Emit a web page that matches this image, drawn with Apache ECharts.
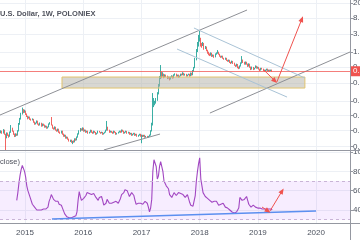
<!DOCTYPE html>
<html><head><meta charset="utf-8">
<script src="https://cdn.jsdelivr.net/npm/echarts@6/dist/echarts.min.js"></script>
<style>html,body{margin:0;padding:0;background:#fff}#c{width:360px;height:240px}</style>
</head><body><div id="c"></div>
<script>
// ---------------- data ----------------
const firstWeek = '2014-08-04';
const firstOpen = 0.0070;
const weekClose = [
0.0078,0.0069,0.0083,0.0065,0.0054,0.0069,0.0061,0.0057,0.0073,0.0094,
0.0078,0.0065,0.0057,0.0065,0.0061,0.0078,0.0120,0.0163,0.0222,0.0284,
0.0251,0.0267,0.0222,0.0196,0.0174,0.0185,0.0163,0.0154,0.0163,0.0136,
0.0120,0.0128,0.0145,0.0120,0.0113,0.0128,0.0106,0.0120,0.0113,0.0100,
0.0106,0.0094,0.0100,0.0120,0.0128,0.0113,0.0094,0.0088,0.0100,0.0083,
0.0078,0.0088,0.0073,0.0069,0.0078,0.0065,0.0057,0.0061,0.0051,0.0054,
0.0048,0.0042,0.0045,0.0040,0.0042,0.0040,0.0048,0.0045,0.0054,0.0065,
0.0078,0.0088,0.0083,0.0094,0.0078,0.0083,0.0073,0.0078,0.0069,0.0073,
0.0083,0.0073,0.0069,0.0078,0.0073,0.0065,0.0069,0.0078,0.0073,0.0069,
0.0073,0.0065,0.0069,0.0073,0.0083,0.0100,0.0083,0.0073,0.0078,0.0073,
0.0069,0.0078,0.0073,0.0065,0.0069,0.0073,0.0078,0.0073,0.0083,0.0078,
0.0069,0.0073,0.0078,0.0069,0.0073,0.0065,0.0069,0.0061,0.0065,0.0069,
0.0061,0.0065,0.0057,0.0061,0.0065,0.0057,0.0061,0.0057,0.0061,0.0054,
0.0057,0.0054,0.0057,0.0061,0.0078,0.0113,0.0386,0.0411,0.0437,0.0525,
0.0757,0.124,0.203,0.293,0.229,0.259,0.216,0.244,0.229,0.203,
0.216,0.191,0.216,0.229,0.203,0.244,0.259,0.229,0.244,0.216,
0.229,0.259,0.244,0.276,0.244,0.259,0.229,0.244,0.259,0.229,
0.276,0.244,0.312,0.375,0.612,1.06,1.54,2.09,2.36,1.63,
1.54,1.73,1.28,1.36,1.13,1.00,0.884,0.832,0.94,0.782,
0.832,0.736,0.884,0.94,1.00,0.884,0.782,0.736,0.782,0.692,
0.651,0.692,0.612,0.576,0.612,0.541,0.509,0.576,0.509,0.450,
0.424,0.479,0.398,0.375,0.424,0.509,0.612,0.541,0.479,0.541,
0.479,0.424,0.479,0.398,0.352,0.398,0.352,0.375,0.424,0.375,
0.398,0.352,0.331,0.375,0.352,0.331,0.312,0.331,0.352,0.312,
0.331,0.312,0.331,0.312
];
const weekHigh = [
0.0082,0.0080,0.0088,0.0085,0.0066,0.0072,0.0071,0.0063,0.0076,0.0113,
0.0096,0.0080,0.0067,0.0068,0.0067,0.0082,0.0128,0.0175,0.0240,0.0330,
0.0300,0.0290,0.0275,0.0230,0.0200,0.0192,0.0190,0.0168,0.0170,0.0165,
0.0140,0.0132,0.0150,0.0148,0.0124,0.0132,0.0130,0.0124,0.0123,0.0116,
0.0110,0.0108,0.0103,0.0125,0.0135,0.0185,0.0116,0.0097,0.0104,0.0102,
0.0086,0.0091,0.0090,0.0076,0.0080,0.0080,0.0067,0.0063,0.0062,0.0056,
0.0055,0.0049,0.0046,0.0046,0.0043,0.0044,0.0050,0.0050,0.0056,0.0068,
0.0082,0.0094,0.0092,0.0098,0.0096,0.0086,0.0085,0.0080,0.0080,0.0075,
0.0085,0.0084,0.0075,0.0080,0.0079,0.0074,0.0070,0.0080,0.0079,0.0074,
0.0075,0.0074,0.0070,0.0075,0.0085,0.0145,0.0102,0.0085,0.0080,0.0079,
0.0075,0.0080,0.0079,0.0074,0.0070,0.0075,0.0080,0.0080,0.0086,0.0085,
0.0080,0.0075,0.0080,0.0079,0.0075,0.0074,0.0070,0.0070,0.0066,0.0070,
0.0070,0.0066,0.0066,0.0062,0.0066,0.0066,0.0063,0.0062,0.0062,0.0062,
0.0058,0.0058,0.0058,0.0063,0.0082,0.0130,0.0806,0.0593,0.0500,0.0593,
0.0850,0.140,0.230,0.450,0.300,0.290,0.265,0.255,0.250,0.235,
0.222,0.220,0.222,0.240,0.235,0.255,0.270,0.265,0.250,0.250,
0.235,0.265,0.265,0.290,0.280,0.265,0.262,0.250,0.265,0.262,
0.285,0.280,0.330,0.400,0.700,1.20,1.85,2.84,3.63,2.40,
1.75,1.85,1.75,1.45,1.40,1.15,1.02,0.92,0.98,0.96,
0.86,0.85,0.92,0.98,1.13,1.02,0.90,0.80,0.80,0.80,
0.70,0.71,0.70,0.62,0.63,0.62,0.55,0.59,0.58,0.52,
0.46,0.49,0.48,0.41,0.44,0.53,0.78,0.63,0.55,0.56,
0.55,0.49,0.50,0.49,0.41,0.41,0.40,0.38,0.44,0.43,
0.41,0.40,0.36,0.38,0.38,0.36,0.34,0.34,0.36,0.36,
0.34,0.34,0.34,0.34
];
const weekLow = [
0.0068,0.0066,0.0067,0.0062,0.0024,0.0050,0.0058,0.0052,0.0055,0.0070,
0.0075,0.0062,0.0054,0.0055,0.0058,0.0059,0.0076,0.0115,0.0158,0.0215,
0.0235,0.0240,0.0210,0.0185,0.0160,0.0168,0.0155,0.0148,0.0150,0.0130,
0.0115,0.0117,0.0125,0.0116,0.0108,0.0110,0.0102,0.0104,0.0108,0.0096,
0.0097,0.0090,0.0091,0.0098,0.0116,0.0110,0.0090,0.0085,0.0086,0.0080,
0.0075,0.0076,0.0070,0.0066,0.0067,0.0062,0.0055,0.0055,0.0049,0.0049,
0.0046,0.0041,0.0040,0.0038,0.0035,0.0038,0.0039,0.0043,0.0044,0.0052,
0.0063,0.0075,0.0080,0.0080,0.0075,0.0076,0.0070,0.0071,0.0066,0.0067,
0.0071,0.0070,0.0066,0.0067,0.0070,0.0062,0.0063,0.0067,0.0071,0.0066,
0.0068,0.0062,0.0063,0.0067,0.0071,0.0080,0.0080,0.0070,0.0071,0.0070,
0.0066,0.0067,0.0070,0.0062,0.0063,0.0067,0.0071,0.0070,0.0071,0.0075,
0.0066,0.0067,0.0071,0.0066,0.0067,0.0062,0.0063,0.0058,0.0059,0.0063,
0.0058,0.0059,0.0055,0.0055,0.0059,0.0055,0.0037,0.0054,0.0055,0.0052,
0.0052,0.0051,0.0052,0.0055,0.0059,0.0076,0.0110,0.0340,0.0380,0.0420,
0.0500,0.074,0.120,0.190,0.200,0.220,0.200,0.210,0.215,0.190,
0.195,0.175,0.185,0.210,0.195,0.200,0.235,0.220,0.220,0.205,
0.210,0.225,0.235,0.240,0.235,0.235,0.220,0.222,0.240,0.220,
0.225,0.235,0.240,0.300,0.370,0.600,1.00,1.40,1.90,1.40,
1.30,1.45,1.15,1.20,1.05,0.90,0.82,0.78,0.80,0.74,
0.75,0.70,0.72,0.85,0.90,0.85,0.75,0.70,0.71,0.66,
0.62,0.62,0.58,0.55,0.55,0.51,0.48,0.50,0.48,0.43,
0.40,0.41,0.37,0.35,0.36,0.41,0.49,0.51,0.46,0.46,
0.46,0.40,0.41,0.38,0.33,0.34,0.33,0.34,0.37,0.36,
0.36,0.34,0.31,0.32,0.34,0.31,0.30,0.30,0.32,0.30,
0.30,0.30,0.31,0.30
];
const rsiStartWeek = 14;
const rsiValues = [
50,58,68,76,82,86,84,80,74,65,
60,58,53,51,46,44,43,42,40,41,
40,39,40,39,41,40,41,42,43,49,
52,56,54,51,52,49,48,49,46,44,
45,42,40,36,35,33,32,32,31,32,
31,33,32,34,38,50,59,54,50,48,
52,53,55,58,59,57,55,56,58,57,
56,53,51,50,53,55,54,50,45,43,
47,51,49,47,48,47,49,48,47,49,
48,47,48,52,56,55,58,61,63,60,
57,54,56,58,59,55,50,46,48,47,
46,47,45,46,48,49,50,47,43,38,
42,51,80,92,94,85,72,75,85,90,
92,80,70,68,65,63,62,56,54,53,
55,58,57,55,56,58,59,57,55,56,
54,53,55,56,52,48,45,44,44,46,
55,70,80,88,94,72,65,58,56,54,
53,52,51,50,49,48,50,49,51,49,
47,45,44,46,48,47,45,43,44,42,
41,40,39,38,38,37,37,38,37,42,
53,52,50,49,51,53,54,50,46,44,
43,44,45,46,43,42,42,43,42,42,
41,42,41,40,41,40,41,40,41,40
];
const priceTicks = [20, 8, 3, 1, 0.4, 0.15, 0.05, 0.02, 0.008, 0.003];
const priceTickLabels = ['20.00000','8.00000','3.00000','1.00000','0.40000','0.15000','0.05000','0.02000','0.00800','0.00300'];
const rsiTicks = [40, 60, 80, 100];
const yearTicks = ['2015-01-01','2016-01-01','2017-01-01','2018-01-01','2019-01-01','2020-01-01'];
const timeRange = ['2014-07-28', '2020-08-01'];
const priceRange = [0.00244, 24.4];
const rsiRange = [26.6, 101];
// drawings (date, value) pairs
const channelTop = [['2014-07-28', 0.0209], ['2018-10-25', 13.2]];
const channelLowA = [['2016-05-10', 0.00245], ['2017-04-27', 0.0065]];
const channelLowB = [['2018-03-06', 0.0236], ['2020-08-01', 1.0]];
const fallTop = [['2017-11-26', 4.37], ['2019-10-23', 0.203]];
const fallLow = [['2017-08-12', 1.2], ['2019-07-03', 0.063]];
const arrowDown = [['2019-02-08', 0.331], ['2019-04-18', 0.169]];
const arrowUp = [['2019-04-30', 0.159], ['2019-10-04', 7.59]];
const zone = [['2015-08-21', 0.2155], ['2019-10-23', 0.1096]];
const rsiSupport = [['2015-06-19', 30.7], ['2020-01-01', 39.0]];
const rsiArrowDown = [['2019-01-27', 43.1], ['2019-03-06', 39.0]];
const rsiArrowUp = [['2019-03-18', 39.0], ['2019-06-02', 59.7]];
const rsiBand = [70, 30];

// ---------------- build ----------------
const DAY = 86400000;
const ts = d => Date.parse(d + 'T00:00:00Z');
const lg = Math.log10;
const t0 = ts(firstWeek);
const candles = weekClose.map((c, i) => {
  const o = i === 0 ? firstOpen : weekClose[i - 1];
  return [t0 + i * 7 * DAY, lg(o), lg(c), lg(Math.min(weekLow[i], o, c)), lg(Math.max(weekHigh[i], o, c))];
});
const rsiData = rsiValues.map((v, i) => [t0 + (i + rsiStartWeek) * 7 * DAY, v]);
const yearTs = yearTicks.map(ts);
const logTicks = priceTicks.map(lg);
const FONT = 'Liberation Sans';
const TXT = '#4c525e';
const GRID = '#edf0f5';

function seg(pair, color, width, arrow, isLog) {
  const f = isLog ? lg : (v => v);
  const ls = { color: color, width: width, type: 'solid' };
  return [
    { coord: [ts(pair[0][0]), f(pair[0][1])], symbol: 'none', lineStyle: ls },
    { coord: [ts(pair[1][0]), f(pair[1][1])], symbol: arrow ? 'triangle' : 'none', symbolSize: arrow ? [5, 6] : 0, lineStyle: ls }
  ];
}
const lastClose = weekClose[weekClose.length - 1];
const RED = '#f0534f';
function xAxisOf(gi, showLabel) {
  return { type: 'value', gridIndex: gi, min: ts(timeRange[0]), max: ts(timeRange[1]),
    axisLine: { show: false }, axisTick: { show: false, customValues: yearTs },
    axisLabel: { show: showLabel, customValues: yearTs, fontSize: 8, color: TXT, margin: 6, fontFamily: FONT,
      formatter: v => String(new Date(v).getUTCFullYear()) },
    splitLine: { show: true, lineStyle: { color: GRID, width: 1 } } };
}

const chart = echarts.init(document.getElementById('c'), null, { renderer: 'canvas' });
chart.setOption({
  animation: false,
  backgroundColor: '#ffffff',
  textStyle: { fontFamily: FONT },
  title: [
    { text: 'U.S. Dollar, 1W, POLONIEX', left: -5, top: 5, textStyle: { fontSize: 7.5, fontWeight: 'bold', color: '#50535e', fontFamily: FONT } },
    { text: 'close)', left: -5, top: 153, textStyle: { fontSize: 7.5, fontWeight: 'normal', color: '#50535e', fontFamily: FONT } }
  ],
  grid: [
    { left: 0, top: 0, width: 350, height: 150, containLabel: false, outerBoundsMode: 'none' },
    { left: 0, top: 151, width: 350, height: 72, containLabel: false, outerBoundsMode: 'none' }
  ],
  xAxis: [ xAxisOf(0, false), xAxisOf(1, true) ],
  yAxis: [
    { type: 'value', gridIndex: 0, position: 'right', min: lg(priceRange[0]), max: lg(priceRange[1]),
      axisLine: { show: false },
      axisTick: { show: true, length: 3, customValues: logTicks, lineStyle: { color: '#9598a1' } },
      axisLabel: { customValues: logTicks, fontSize: 8, color: TXT, margin: 3, fontFamily: FONT,
        formatter: v => { let k = 0, b = 1e9; logTicks.forEach((t, j) => { if (Math.abs(t - v) < b) { b = Math.abs(t - v); k = j; } }); return priceTickLabels[k]; } },
      splitLine: { show: true, lineStyle: { color: GRID, width: 1 } } },
    { type: 'value', gridIndex: 1, position: 'right', min: rsiRange[0], max: rsiRange[1],
      axisLine: { show: false },
      axisTick: { show: true, length: 3, customValues: rsiTicks, lineStyle: { color: '#9598a1' } },
      axisLabel: { customValues: rsiTicks, fontSize: 8, color: TXT, margin: 3, fontFamily: FONT, formatter: v => Number(v).toFixed(2) },
      splitLine: { show: true, lineStyle: { color: GRID, width: 1 } } }
  ],
  series: [
    { type: 'candlestick', xAxisIndex: 0, yAxisIndex: 0, data: candles, barWidth: 1, clip: true,
      itemStyle: { color: '#26a69a', color0: '#ef5350', borderColor: '#26a69a', borderColor0: '#ef5350', borderWidth: 0.9 },
      markArea: { silent: true, z: 5,
        data: [[
          { coord: [ts(zone[0][0]), lg(zone[0][1])], itemStyle: { color: 'rgba(178,176,166,0.5)', borderColor: '#e2c46e', borderWidth: 1 } },
          { coord: [ts(zone[1][0]), lg(zone[1][1])] }
        ]] },
      markLine: { silent: true, animation: false, label: { show: false }, symbol: ['none', 'none'],
        data: [
          seg(channelTop, '#8e9096', 1, false, true),
          seg(channelLowA, '#8e9096', 1, false, true),
          seg(channelLowB, '#8e9096', 1, false, true),
          seg(fallTop, '#a9c3d6', 1, false, true),
          seg(fallLow, '#a9c3d6', 1, false, true),
          seg(arrowDown, RED, 1, true, true),
          seg(arrowUp, RED, 1, true, true),
          { yAxis: lg(lastClose), symbol: 'none', lineStyle: { color: 'rgba(240,83,79,0.75)', width: 1, type: 'solid' },
            label: { show: true, position: 'end', distance: 0, formatter: lastClose.toFixed(5), backgroundColor: RED,
              color: '#ffffff', fontSize: 8, padding: [1, 2, 1, 3], fontFamily: FONT } }
        ] } },
    { type: 'line', xAxisIndex: 1, yAxisIndex: 1, data: rsiData, showSymbol: false, symbol: 'none',
      lineStyle: { color: '#a247c2', width: 1.1 }, clip: true,
      markArea: { silent: true, data: [[{ yAxis: rsiBand[0], itemStyle: { color: 'rgba(153,21,255,0.08)' } }, { yAxis: rsiBand[1] }]] },
      markLine: { silent: true, animation: false, label: { show: false }, symbol: ['none', 'none'],
        data: [
          { yAxis: rsiBand[0], lineStyle: { color: '#c9b4d6', width: 1, type: [3, 3] } },
          { yAxis: rsiBand[1], lineStyle: { color: '#c9b4d6', width: 1, type: [3, 3] } },
          seg(rsiSupport, '#5b8ff0', 1.5, false, false),
          seg(rsiArrowDown, RED, 1, true, false),
          seg(rsiArrowUp, RED, 1, true, false)
        ] } }
  ],
  graphic: [
    { type: 'line', silent: true, z: 100, shape: { x1: 350.5, y1: 0, x2: 350.5, y2: 240 }, style: { stroke: '#9598a1', lineWidth: 1 } },
    { type: 'line', silent: true, z: 100, shape: { x1: 0, y1: 150.5, x2: 360, y2: 150.5 }, style: { stroke: '#9598a1', lineWidth: 1 } },
    { type: 'line', silent: true, z: 100, shape: { x1: 0, y1: 223.5, x2: 360, y2: 223.5 }, style: { stroke: '#9598a1', lineWidth: 1 } }
  ]
});
</script>
</body></html>
